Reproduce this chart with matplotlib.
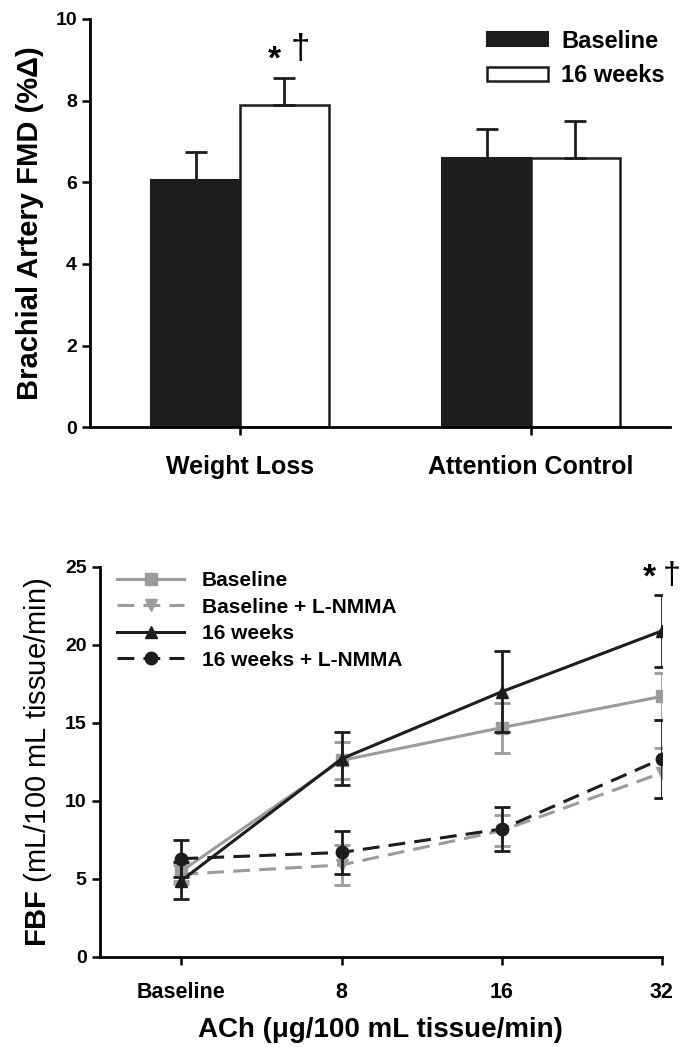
import numpy as np
import matplotlib
matplotlib.use('Agg')
import matplotlib.pyplot as plt

plt.rcParams['font.family'] = ['Liberation Sans', 'DejaVu Sans']
plt.rcParams['mathtext.fontset'] = 'custom'
plt.rcParams['mathtext.rm'] = 'Liberation Sans'
plt.rcParams['mathtext.bf'] = 'Liberation Sans:bold'

# top panel: brachial artery FMD
groups = ['Weight Loss', 'Attention Control']
fmd_base = [6.05, 6.6]
fmd_base_err = [0.7, 0.7]
fmd_16w = [7.9, 6.58]
fmd_16w_err = [0.65, 0.92]

# bottom panel: forearm blood flow
doses = ['Baseline', '8', '16', '32']
fbf_base = [5.5, 12.6, 14.7, 16.7]
fbf_base_err = [0.6, 1.2, 1.6, 1.5]
fbf_base_lnmma = [5.3, 5.9, 8.1, 11.8]
fbf_base_lnmma_err = [0.6, 1.3, 1.0, 1.6]
fbf_16w = [4.9, 12.7, 17.0, 20.9]
fbf_16w_err = [1.2, 1.7, 2.6, 2.3]
fbf_16w_lnmma = [6.3, 6.7, 8.2, 12.7]
fbf_16w_lnmma_err = [1.2, 1.4, 1.4, 2.5]

dark = '#1e1c1d'
gray = '#9b9b9b'

fig = plt.figure(figsize=(6.83, 10.47), dpi=100)

# ---- top
ax1 = fig.add_axes([0.132, 0.592, 0.849, 0.390])
x = np.arange(len(groups))
w = 0.305
ekw = dict(ecolor=dark, elinewidth=2, capsize=8, capthick=2)
ax1.bar(x - w/2, fmd_base, w, color=dark, edgecolor=dark, lw=1.5,
        yerr=[np.zeros(2), fmd_base_err], error_kw=ekw, label='Baseline', zorder=2)
ax1.bar(x + w/2, fmd_16w, w, color='white', edgecolor=dark, lw=1.8,
        yerr=[np.zeros(2), fmd_16w_err], error_kw=ekw, label='16 weeks', zorder=2)
ax1.set_xlim(-0.515, 1.478)
ax1.set_ylim(0, 10)
ax1.set_yticks([0, 2, 4, 6, 8, 10])
ax1.set_xticks(x)
ax1.set_xticklabels(groups)
ax1.set_ylabel('Brachial Artery FMD (%Δ)', fontsize=21, fontweight='bold', labelpad=8)
ax1.text(0.117, 9.0, '*', fontsize=24, fontweight='bold', ha='center', va='center')
ax1.text(0.206, 9.25, '†', fontsize=25, ha='center', va='center')
ax1.legend(loc='upper left', bbox_to_anchor=(0.676, 0.985), frameon=False,
           handlelength=2.6, handleheight=0.52, borderaxespad=0.0, borderpad=0.2,
           labelspacing=0.5, handletextpad=0.55,
           prop=dict(weight='bold', size=17))

# ---- bottom
ax2 = fig.add_axes([0.146, 0.086, 0.823, 0.3725])
xd = np.arange(len(doses))
common = dict(ms=9, lw=2.2, capsize=6, capthick=2, elinewidth=2)
dash = (0, (5.5, 3))
c1 = ax2.errorbar(xd, fbf_base, yerr=fbf_base_err, color=gray, marker='s',
                  label='Baseline', zorder=2, **common)
c2 = ax2.errorbar(xd, fbf_base_lnmma, yerr=fbf_base_lnmma_err, color=gray, marker='v',
                  ls=dash, label='Baseline + L-NMMA', zorder=2, **common)
c3 = ax2.errorbar(xd, fbf_16w, yerr=fbf_16w_err, color=dark, marker='^',
                  label='16 weeks', zorder=3, **common)
c4 = ax2.errorbar(xd, fbf_16w_lnmma, yerr=fbf_16w_lnmma_err, color=dark, marker='o',
                  ls=dash, label='16 weeks + L-NMMA', zorder=3, **common)
ax2.set_xlim(-0.51, 3.0)
ax2.set_ylim(0, 25)
ax2.set_yticks([0, 5, 10, 15, 20, 25])
ax2.set_xticks(xd)
ax2.set_xticklabels(doses)
ax2.set_ylabel(r'$\mathbf{FBF}$ (mL/100 mL tissue/min)', fontsize=21, labelpad=8)
ax2.set_xlabel('ACh (μg/100 mL tissue/min)', fontsize=20, fontweight='bold', labelpad=10)
ax2.text(2.92, 24.3, '*', fontsize=24, fontweight='bold', ha='center', va='center')
ax2.text(3.06, 24.4, '†', fontsize=23, ha='center', va='center', clip_on=False)
ax2.legend(handles=[c[0] for c in (c1, c2, c3, c4)],
           labels=['Baseline', 'Baseline + L-NMMA', '16 weeks', '16 weeks + L-NMMA'],
           loc='upper left', bbox_to_anchor=(0.024, 1.0), frameon=False,
           handlelength=3.2, borderaxespad=0.0, borderpad=0.2, labelspacing=0.36,
           handletextpad=0.85, prop=dict(weight='bold', size=15))

for ax in (ax1, ax2):
    ax.spines['top'].set_visible(False)
    ax.spines['right'].set_visible(False)
    ax.spines['left'].set_linewidth(2)
    ax.spines['bottom'].set_linewidth(2)
    ax.tick_params(axis='both', direction='out', width=1.8, length=6, labelsize=14)
    for lab in ax.get_yticklabels():
        lab.set_fontweight('bold')
for lab in ax1.get_xticklabels():
    lab.set_fontweight('bold')
    lab.set_fontsize(18)
for lab in ax2.get_xticklabels():
    lab.set_fontweight('bold')
    lab.set_fontsize(15.5)
ax1.tick_params(axis='x', pad=14)
ax2.tick_params(axis='x', pad=12)

fig.savefig('out.png', dpi=100)
